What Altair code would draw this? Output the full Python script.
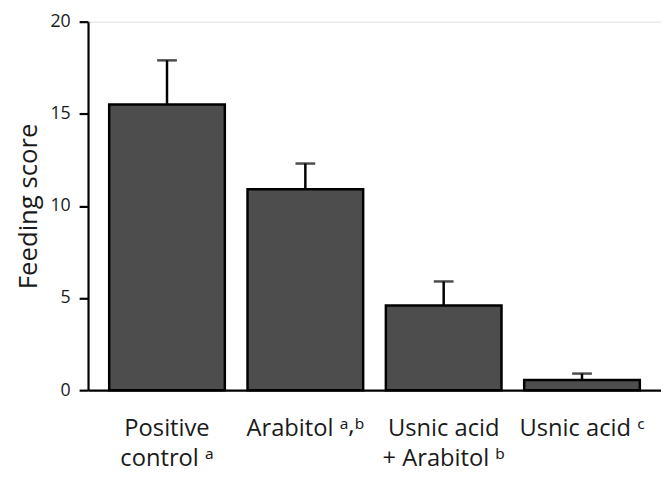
import altair as alt
import pandas as pd

categories = ["Positive|control ᵃ", "Arabitol ᵃ⸴ᵇ", "Usnic acid|+ Arabitol ᵇ", "Usnic acid ᶜ"]
means = [15.5, 10.9, 4.6, 0.55]
upper = [17.9, 12.3, 5.9, 0.9]
y_ticks = [0, 5, 10, 15, 20]

df = pd.DataFrame({"cat": categories, "mean": means, "upper": upper})

FONT = "Open Sans, Noto Sans, DejaVu Sans"
TXT = "#1a1a1a"

x_scale = alt.Scale(paddingInner=0.164, paddingOuter=0.153)
y_scale = alt.Scale(domain=[0, 20], nice=False)

x = alt.X("cat:N", sort=categories, scale=x_scale, title=None,
          axis=alt.Axis(labelExpr="split(datum.label, '|')"))
y = alt.Y("mean:Q", scale=y_scale, title="Feeding score",
          axis=alt.Axis(values=y_ticks))

base = alt.Chart(df)
bars = base.mark_bar(fill="#4d4d4d", stroke="#000", strokeWidth=2.5).encode(x=x, y=y)
rules = base.mark_rule(color="#000", strokeWidth=2.5).encode(x=x, y=y, y2="upper:Q")
caps = base.mark_tick(color="#000", thickness=2.5, size=20, orient="horizontal").encode(
    x=x, y=alt.Y("upper:Q", scale=y_scale, title="Feeding score", axis=alt.Axis(values=y_ticks))
)

chart = alt.layer(bars, rules, caps).properties(
    width=580, height=373,
    autosize=alt.AutoSizeParams(type="none"),
    padding={"left": 81, "top": 11, "right": 0, "bottom": 80},
).configure_view(stroke=None).configure(font=FONT).configure_axis(
    grid=False, domainColor="#000", domainWidth=2.2, tickColor="#000", tickWidth=2.2,
    labelFont=FONT, labelColor=TXT, titleFont=FONT, titleColor=TXT,
    titleFontWeight="normal",
).configure_axisX(
    ticks=False, labelAngle=0, labelFontSize=24, labelPadding=27, labelLineHeight=30,
    labelLimit=300,
).configure_axisY(
    tickSize=9, labelFontSize=18, labelPadding=9, titleFontSize=26, titlePadding=9,
)

chart.save("out.html", embed_options={"renderer": "svg", "actions": False})
